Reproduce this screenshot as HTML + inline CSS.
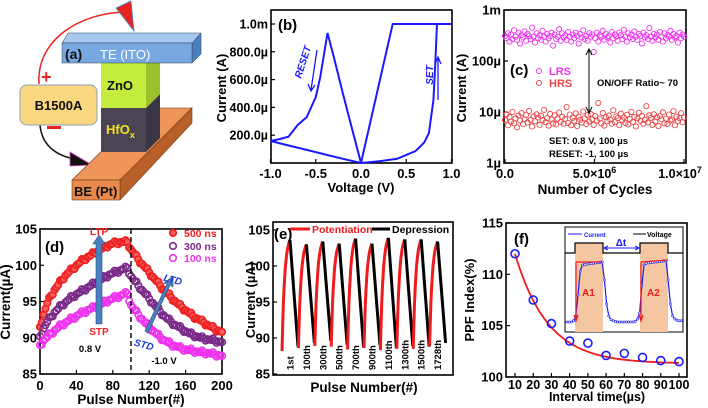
<!DOCTYPE html>
<html><head><meta charset="utf-8">
<style>
html,body{margin:0;padding:0;background:#fff;}
svg{display:block;font-family:"Liberation Sans",sans-serif;font-weight:bold;}
</style></head>
<body>
<svg id="fig" width="708" height="408" viewBox="0 0 708 408" xmlns="http://www.w3.org/2000/svg">
<g>
  <path d="M39,84 C36,40 80,12 128,12" fill="none" stroke="#e8231f" stroke-width="1.5"/>
  <polygon points="116,8 131,1 134,31" fill="#e8231f" stroke="#3a8fd0" stroke-width="0.8"/>
  <path d="M40,125 C42,148 60,158 82,160" fill="none" stroke="#111" stroke-width="1.5"/>
  <polygon points="70,152 92,165 70,166" fill="#111" stroke="#e040c0" stroke-width="0.8"/>
  <text x="41" y="83" font-size="18" fill="#e8231f">+</text>
  <rect x="47" y="126" width="14" height="3" fill="#e8231f"/>
  <polygon points="72,180 146,108 192,108 120,180" fill="#ef955a" stroke="#6b3a1a" stroke-width="0.6"/>
  <polygon points="120,180 192,108 192,123 120,200" fill="#b9602a" stroke="#6b3a1a" stroke-width="0.6"/>
  <rect x="72" y="180" width="48" height="20" fill="#e98a4c" stroke="#6b3a1a" stroke-width="0.6"/>
  <text x="74" y="196" font-size="13" fill="#111">BE (Pt)</text>
  <rect x="101" y="108" width="45" height="44" fill="#4b4553"/>
  <polygon points="146,108 160,94 160,138 146,152" fill="#3b3644"/>
  <rect x="101" y="63" width="45" height="45" fill="#c3ec3c"/>
  <polygon points="146,63 160,63 160,94 146,108" fill="#9bc22a"/>
  <text x="107" y="90" font-size="13" fill="#111">ZnO</text>
  <text x="106" y="134" font-size="13" fill="#f2e21a">HfO<tspan font-size="9" dy="4">x</tspan></text>
  <polygon points="62,43 68,33 201,33 192,43" fill="#a6c8ee" stroke="#345" stroke-width="0.5"/>
  <polygon points="192,43 201,33 201,54 192,63" fill="#4a7fbd" stroke="#345" stroke-width="0.5"/>
  <rect x="62" y="43" width="130" height="20" fill="#77a8e0" stroke="#345" stroke-width="0.5"/>
  <text x="65" y="59" font-size="14" fill="#111">(a)</text>
  <text x="100" y="59" font-size="13" fill="#fff" font-weight="normal">TE (ITO)</text>
  <rect x="20" y="85" width="77" height="40" rx="7" fill="#fad77f" stroke="#8ca0b8" stroke-width="1"/>
  <text x="58.5" y="110" font-size="13" text-anchor="middle" fill="#111">B1500A</text>
</g>
<g id="pb"></g>
<g id="pc"></g>
<g id="pd"></g>
<g id="pe"></g>
<g id="pf"></g>
</svg>
<script>
const ivV = [0,-0.1,-0.2,-0.3,-0.37,-0.45,-0.5,-0.6,-0.7,-0.8,-0.9,-1.0,-0.8,-0.6,-0.4,-0.2,0,0.2,0.4,0.5,0.6,0.65,0.7,0.75,0.8,0.82,0.84,1.0,0.35,0];
const ivI = [0,250,500,760,935,620,475,330,273,190,172,158,126,94,62,30,0,12,30,58,85,115,150,215,450,700,1000,1000,1000,0];
const bYTicks = [200,400,600,800,1000];
const bYTickLabels = ["200.0\u00b5","400.0\u00b5","600.0\u00b5","800.0\u00b5","1.0m"];
const bXTicks = [-1,-0.5,0,0.5,1];
const bXTickLabels = ["-1.0","-0.5","0.0","0.5","1.0"];
const lrs = [310,280,350,240,330,270,400,300,260,360,220,320,290,380,250,340,310,270,450,300,
230,350,280,320,260,390,300,240,340,280,310,360,200,330,270,300,420,250,350,290,
320,260,370,300,240,330,280,360,310,220,340,290,400,270,310,250,350,300,330,150,
280,360,240,320,300,390,260,340,290,310,230,370,280,330,300,250,360,320,270,410,
300,240,350,290,330,270,380,300,260,340,310,220,360,290,320,270,440,300,250,340,
290,330,260,370,300,240,350,280,320,300,390,260,340,290,310,230,360,280,330,300];
const hrs = [7,9,5.5,8,6.5,10,6,7.5,5,8.5,6.8,9.5,5.8,7.2,8.8,6.2,10.5,7,5.2,8.2,
6.6,9,7.8,5.6,8.4,6.9,11,6.3,7.6,5.4,9.2,7.1,6,8.6,5.7,7.4,9.8,6.4,8,5.9,
7.3,12.5,6.1,8.9,5.5,7.7,6.7,9.4,5.3,8.1,7,6.2,10.2,7.5,5.8,8.7,6.5,9.1,7.2,5.6,
8.3,6.8,15,7.4,6,9.6,5.4,7.9,6.6,8.5,7.1,5.9,10.8,6.3,8.2,7.6,5.5,9.3,6.9,7.8,
6.1,8.8,5.7,7.3,10,6.4,8,5.2,7.5,9.7,6.7,8.4,5.9,7,13,6.2,8.6,7.7,5.6,9,
6.5,7.9,5.3,8.3,7.2,9.9,6,7.4,5.8,8.9,6.8,7.1,10.4,5.5,8.1,6.6,7.6,9.5,6.3,7.8];
const cYTicks = [1,10,100,1000];
const cYTickLabels = ["1\u00b5","10\u00b5","100\u00b5","1m"];
const cXTicks = [0,5e6,1e7];
const dStep = 4;
const d500 = [91.5,93.2,94.8,95.8,96.6,97.3,98,98.6,99.1,99.5,100,100.4,100.8,101.1,101.4,101.7,102,102.3,102.6,102.8,103,103.1,103.2,103.2,103.2,
102.2,101.5,100.8,100.2,99.6,99,98.4,97.8,97.2,96.6,96.1,95.6,95.1,94.6,94.2,93.8,93.4,93,92.7,92.4,92.1,91.8,91.5,91.2,91,90.8];
const d300 = [90.2,91.3,92.2,92.9,93.5,94,94.5,94.9,95.3,95.7,96,96.3,96.6,96.9,97.2,97.5,97.8,98.1,98.4,98.7,98.9,99.1,99.3,99.5,99.6,
98.5,97.8,97.2,96.6,96,95.4,94.8,94.2,93.6,93.1,92.6,92.2,91.8,91.5,91.2,90.9,90.6,90.4,90.2,90,89.9,89.8,89.7,89.6,89.5,89.4];
const d100 = [89,89.6,90.1,90.6,91,91.4,91.8,92.1,92.4,92.7,93,93.3,93.5,93.8,94,94.2,94.5,94.7,95,95.2,95.4,95.6,95.8,96,96.1,
94.5,93.8,93.2,92.6,92,91.5,91,90.5,90.1,89.7,89.4,89.1,88.9,88.7,88.5,88.4,88.3,88.2,88.1,88,88,87.9,87.8,87.7,87.6,87.5];
const dYTicks = [85,90,95,100,105];
const dXTicks = [0,40,80,120,160,200];
const ePotStart = [88.2,88.6,88.9,88.8,88.4,88.6,88.3,88.5,88.5,88.9];
const ePeak = [103.6,103.0,103.4,103.1,103.8,103.1,103.9,103.7,103.7,103.4];
const eDepEnd = [88.8,89.3,89.6,89.0,88.7,89.0,88.6,88.9,88.8,89.3];
const eLabels = ["1st","100th","300th","500th","700th","900th","1100th","1300th","1500th","1728th"];
const eYTicks = [85,90,95,100,105];
const fT = [10,20,30,40,50,60,70,80,90,100];
const fPPF = [112,107.5,105.2,103.5,103.3,102.1,102.3,101.9,101.6,101.5];
const fFit = [101.3,10.7,18];
const fYTicks = [100,105,110,115];
const fXTicks = [10,20,30,40,50,60,70,80,90,100];
const fInset = [0,0,0,0.02,0.1,0.45,0.85,0.95,0.96,0.965,0.97,0.975,0.98,0.985,0.99,0.995,1.0,0.7,0.3,0.1,0.04,0.02,0.01,0,0,0,0,0,0,0,0,0.01,0.05,0.15,0.6,0.95,0.98,0.985,0.99,0.995,1,1,1.01,1.01,1.02,1.02,0.7,0.3,0.1,0.05,0.03,0.02,0.02];

const NS="http://www.w3.org/2000/svg";
function mk(parent,tag,attrs,txt){const e=document.createElementNS(NS,tag);for(const k in attrs)e.setAttribute(k,attrs[k]);if(txt!==undefined)e.textContent=txt;parent.appendChild(e);return e;}
function frame(g,x0,y0,x1,y1){const r=mk(g,'rect',{x:x0,y:y0,width:x1-x0,height:y1-y0,fill:'none',stroke:'#000','stroke-width':1.6});

}
function tickY(g,x0,y,lbl,fs){const l=mk(g,'line',{x1:x0,x2:x0+4,y1:y,y2:y,stroke:'#000','stroke-width':1.2});


const t=mk(g,'text',{x:x0-3,y:y+4.5,'font-size':fs||13,'text-anchor':'end'},lbl);

}
function tickX(g,x,y1,lbl,fs,ly){const l=mk(g,'line',{x1:x,x2:x,y1:y1,y2:y1-4,stroke:'#000','stroke-width':1.2});


const t=mk(g,'text',{x:x,y:ly||y1+14,'font-size':fs||13,'text-anchor':'middle'},lbl);

}
function txt(g,x,y,s,attrs,name){const a=Object.assign({x:x,y:y},attrs||{});const t=mk(g,'text',a,s);

return t;}

(function(){
const g=document.getElementById('pb');
const xb=v=>361+v*90.5, yb=i=>163-i*0.139;
frame(g,271,10,452,163);
bYTicks.forEach((v,k)=>tickY(g,271,yb(v),bYTickLabels[k],12.5));
bXTicks.forEach((v,k)=>tickX(g,xb(v),163,bXTickLabels[k],13,178));
const p=mk(g,'path',{d:ivV.map((v,k)=>(k?'L':'M')+xb(v).toFixed(1)+','+yb(ivI[k]).toFixed(1)).join(''),fill:'none',stroke:'#1a1aff','stroke-width':2});


txt(g,278,30,'(b)',{'font-size':15},'panel-b-label');
txt(g,226,88,'Current (A)',{'font-size':13,'text-anchor':'middle',transform:'rotate(-90 226 88)'},'y-axis-title');
txt(g,361,192,'Voltage (V)',{'font-size':13,'text-anchor':'middle'},'x-axis-title');
txt(g,306,63,'RESET',{'font-size':10,'font-style':'italic',fill:'#1a1aff','text-anchor':'middle',transform:'rotate(-72 306 63)'},'reset-annotation');
const a1=mk(g,'path',{d:'M317,50 L311,90 M308,84 L311,91 L315,85',stroke:'#1a1aff','stroke-width':1.3,fill:'none'});


txt(g,433,75,'SET',{'font-size':10,'font-style':'italic',fill:'#1a1aff','text-anchor':'middle',transform:'rotate(-90 433 75)'},'set-annotation');
const a2=mk(g,'path',{d:'M438,100 L438,58 M435,64 L438,57 L441,64',stroke:'#1a1aff','stroke-width':1.3,fill:'none'});


})();

(function(){
const g=document.getElementById('pc');
const xc=n=>505+n/1e7*179, yc=i=>163-Math.log10(i)*51;
frame(g,504,10,686,163);
cYTicks.forEach((v,k)=>tickY(g,504,yc(v),cYTickLabels[k],13));
tickX(g,xc(0),163,'0.0',13,178);
const t1=mk(g,'text',{x:xc(5e6),y:178,'font-size':12.5,'text-anchor':'middle'});t1.innerHTML='5.0\u00d710<tspan font-size="9" dy="-5">6</tspan>';


const t2=mk(g,'text',{x:xc(1e7)-4,y:178,'font-size':12.5,'text-anchor':'middle'});t2.innerHTML='1.0\u00d710<tspan font-size="9" dy="-5">7</tspan>';


[5e6,1e7].forEach(v=>{const l=mk(g,'line',{x1:xc(v),x2:xc(v),y1:163,y2:159,stroke:'#000','stroke-width':1.2});

});
const N=lrs.length;
lrs.forEach((v,k)=>{const c=mk(g,'circle',{cx:xc(k/(N-1)*1e7),cy:yc(v),r:2.6,fill:'none',stroke:'#ee33ee','stroke-width':0.9});

});
hrs.forEach((v,k)=>{const c=mk(g,'circle',{cx:xc(k/(hrs.length-1)*1e7),cy:yc(v),r:2.6,fill:'none',stroke:'#ee4444','stroke-width':0.9});

});
txt(g,466,88,'Current (A)',{'font-size':13,'text-anchor':'middle',transform:'rotate(-90 466 88)'},'y-axis-title');
txt(g,595,194,'Number of Cycles',{'font-size':13.5,'text-anchor':'middle'},'x-axis-title');
txt(g,510,75,'(c)',{'font-size':15},'panel-c-label');
const l1=mk(g,'circle',{cx:539,cy:71,r:2.6,fill:'none',stroke:'#ee33ee','stroke-width':0.9});


txt(g,549,75,'LRS',{'font-size':11,fill:'#ee33ee'},'legend-lrs');
const l2=mk(g,'circle',{cx:539,cy:83,r:2.6,fill:'none',stroke:'#ee4444','stroke-width':0.9});


txt(g,549,87,'HRS',{'font-size':11,fill:'#ee4444'},'legend-hrs');
const ar=mk(g,'path',{d:'M589,50 L589,112 M586,55 L589,49 L592,55 M586,107 L589,113 L592,107',stroke:'#000','stroke-width':1,fill:'none'});


txt(g,597,86,'ON/OFF Ratio~ 70',{'font-size':9.5},'on-off-ratio');
txt(g,549,144,'SET: 0.8 V, 100 \u00b5s',{'font-size':9.5},'set-condition');
txt(g,549,157,'RESET: -1, 100 \u00b5s',{'font-size':9.5},'reset-condition');
})();

(function(){
const g=document.getElementById('pd');
const xd=p=>40+p*0.91, yd=v=>374-(v-85)*7.25;
frame(g,40,229,222,374);
dYTicks.forEach(v=>tickY(g,40,yd(v),String(v),13));
dXTicks.forEach(v=>tickX(g,xd(v),374,String(v),13,390));
const series=[[d500,'#f02020',true,'series-500ns'],[d300,'#7a2a88',false,'series-300ns'],[d100,'#ee33ee',false,'series-100ns']];
series.forEach(s=>{s[0].forEach((v,k)=>{
 const c=mk(g,'circle',{cx:xd(k*dStep),cy:yd(v),r:3.3,fill:s[2]?'#f46060':'none',stroke:s[1],'stroke-width':1.6});
 
 
 if(k<s[0].length-1){const c2=mk(g,'circle',{cx:xd(k*dStep+2),cy:yd((v+s[0][k+1])/2+((k%3)-1)*0.25),r:3.3,fill:s[2]?'#f46060':'none',stroke:s[1],'stroke-width':1.6});
 
 }
});});
const dl=mk(g,'line',{x1:xd(100),x2:xd(100),y1:229,y2:374,stroke:'#111','stroke-width':1.5,'stroke-dasharray':'5,3'});


txt(g,45,252,'(d)',{'font-size':15},'panel-d-label');
[[233,'#f02020','500 ns',true],[246,'#7a2a88','300 ns',false],[258,'#ee33ee','100 ns',false]].forEach(e=>{
 const c=mk(g,'circle',{cx:173,cy:e[0],r:3.3,fill:e[3]?'#f46060':'none',stroke:e[1],'stroke-width':1.6});
 
 
 txt(g,184,e[0]+4,e[2],{'font-size':10.5,fill:e[1]},'legend-entry');});
const up=mk(g,'path',{d:'M96,324 L96,244 L93,244 L99,235 L105,244 L102,244 L102,324 Z',fill:'#4a7fc0',stroke:'#2a4f80','stroke-width':0.6});


const up2=mk(g,'path',{d:'M145,331 L167,284 L164,283 L173,276 L173,287 L170,285 L148,333 Z',fill:'#4a7fc0',stroke:'#2a4f80','stroke-width':0.6});


txt(g,99,235,'LTP',{'font-size':10,fill:'#f02020','text-anchor':'middle'},'ltp-label');
txt(g,99,335,'STP',{'font-size':10,fill:'#f02020','text-anchor':'middle'},'stp-label');
txt(g,172,283,'LTD',{'font-size':10,fill:'#1a3adf','font-style':'italic','text-anchor':'middle',transform:'rotate(15 172 283)'},'ltd-label');
txt(g,143,348,'STD',{'font-size':10,fill:'#1a3adf','font-style':'italic','text-anchor':'middle',transform:'rotate(15 143 348)'},'std-label');
txt(g,90,352,'0.8 V',{'font-size':9.5,'text-anchor':'middle'},'set-voltage');
txt(g,164,364,'-1.0 V',{'font-size':9.5,'text-anchor':'middle'},'reset-voltage');
txt(g,10,302,'Current(\u00b5A)',{'font-size':13.5,'text-anchor':'middle',transform:'rotate(-90 10 302)'},'y-axis-title');
txt(g,131,404,'Pulse Number(#)',{'font-size':13.5,'text-anchor':'middle'},'x-axis-title');
})();

(function(){
const g=document.getElementById('pe');
const ye=v=>374-(v-85)*7.2;
const x0=282, per=16.4;
frame(g,273,222,453,375);
eYTicks.forEach(v=>tickY(g,273,ye(v),String(v),13));
ePeak.forEach((pk,k)=>{
 const s=x0+k*per; const st=ePotStart[k]; let d='';
 for(let j=0;j<=12;j++){const u=j/12;const v=st+(pk-st)*(1-Math.exp(-3*u))/(1-Math.exp(-3));d+=(j?'L':'M')+(s+u*8).toFixed(1)+','+ye(v).toFixed(1);}
 const r=mk(g,'path',{d:d,fill:'none',stroke:'#ee1c1c','stroke-width':3});
 
 
 const b=mk(g,'path',{d:'M'+(s+8)+','+ye(pk)+' Q'+(s+11)+','+ye((pk+eDepEnd[k])/2+1.5)+' '+(s+16)+','+ye(eDepEnd[k]),fill:'none',stroke:'#000','stroke-width':3});
 
 
 txt(g,s+11.5,370,eLabels[k],{'font-size':9.5,transform:'rotate(-90 '+(s+11.5)+' 370)'},'cycle-label');
});
txt(g,274,239,'(e)',{'font-size':15},'panel-e-label');
const lr=mk(g,'line',{x1:290,x2:310,y1:229,y2:229,stroke:'#ee1c1c','stroke-width':3});


txt(g,312,233,'Potentiation',{'font-size':10.5,fill:'#ee1c1c'},'legend-potentiation');
const lb=mk(g,'line',{x1:372,x2:390,y1:229,y2:229,stroke:'#000','stroke-width':3});


txt(g,392,233,'Depression',{'font-size':10.5},'legend-depression');
txt(g,255,300,'Current (\u00b5A)',{'font-size':13,'text-anchor':'middle',transform:'rotate(-90 255 300)'},'y-axis-title');
txt(g,364,392,'Pulse Number(#)',{'font-size':13.5,'text-anchor':'middle'},'x-axis-title');
})();

(function(){
const g=document.getElementById('pf');
const xf=t=>515+(t-10)*1.822, yf=v=>377-(v-100)*10.27;
frame(g,506,223,687,377);
fYTicks.forEach(v=>tickY(g,506,yf(v),String(v),13));
fXTicks.forEach(v=>tickX(g,xf(v),377,String(v),12.5,389));
let d='';for(let t=10;t<=100;t+=2){d+=(t>10?'L':'M')+xf(t).toFixed(1)+','+yf(fFit[0]+fFit[1]*Math.exp(-(t-10)/fFit[2])).toFixed(1);}
const fit=mk(g,'path',{d:d,fill:'none',stroke:'#ee1c1c','stroke-width':1.8});


fT.forEach((t,k)=>{const c=mk(g,'circle',{cx:xf(t),cy:yf(fPPF[k]),r:4,fill:'none',stroke:'#1a1aff','stroke-width':1.6});

});
txt(g,514,244,'(f)',{'font-size':15},'panel-f-label');
txt(g,474,300,'PPF Index(%)',{'font-size':13,'text-anchor':'middle',transform:'rotate(-90 474 300)'},'y-axis-title');
txt(g,597,401,'Interval time(\u00b5s)',{'font-size':12.5,'text-anchor':'middle'},'x-axis-title');
const ig=mk(g,'g',{});


const ib=mk(ig,'rect',{x:565,y:227,width:118,height:105,fill:'#fff',stroke:'#000','stroke-width':1});


[[575,603],[640,668]].forEach(p=>{const r=mk(ig,'rect',{x:p[0],y:243,width:p[1]-p[0],height:89,fill:'#f5c6a2'});

});
const vl=mk(ig,'path',{d:'M565,253 L575,253 L575,243 L603,243 L603,253 L640,253 L640,243 L668,243 L668,253 L683,253',fill:'none',stroke:'#000','stroke-width':1.2});


const xi=k=>567+k*2.2, yi=v=>322-v*60;
const cl=mk(ig,'path',{d:fInset.map((v,k)=>(k?'L':'M')+xi(k).toFixed(1)+','+yi(v).toFixed(1)).join(''),fill:'none',stroke:'#1a1aff','stroke-width':1.2});


fInset.forEach((v,k)=>{const c=mk(ig,'circle',{cx:xi(k),cy:yi(v),r:1.1,fill:'#fff',stroke:'#1a1aff','stroke-width':0.6});

});
const ra=mk(ig,'path',{d:'M576,262 L576,320 M574,315 L576,321 L578,315 M576,262 L602,262 M641,262 L641,320 M639,315 L641,321 L643,315 M641,262 L668,260',fill:'none',stroke:'#ee1c1c','stroke-width':1.2});


txt(g,582,296,'A1',{'font-size':10,fill:'#ee1c1c'},'a1-label');
txt(g,647,296,'A2',{'font-size':10,fill:'#ee1c1c'},'a2-label');
const dt=mk(ig,'path',{d:'M604,248 L639,248 M608,246 L604,248 L608,250 M635,246 L639,248 L635,250',fill:'none',stroke:'#1a1aff','stroke-width':1});


txt(g,621,246,'\u0394t',{'font-size':10,fill:'#1a1aff','text-anchor':'middle'},'delta-t-label');
const lc=mk(ig,'line',{x1:568,x2:582,y1:234,y2:234,stroke:'#1a1aff','stroke-width':1});


txt(g,584,237,'Current',{'font-size':6,fill:'#1a1aff'},'legend-current');
const lv=mk(ig,'line',{x1:633,x2:646,y1:234,y2:234,stroke:'#000','stroke-width':1});


txt(g,647,237,'Voltage',{'font-size':7},'legend-voltage');
})();
</script>
</body></html>
